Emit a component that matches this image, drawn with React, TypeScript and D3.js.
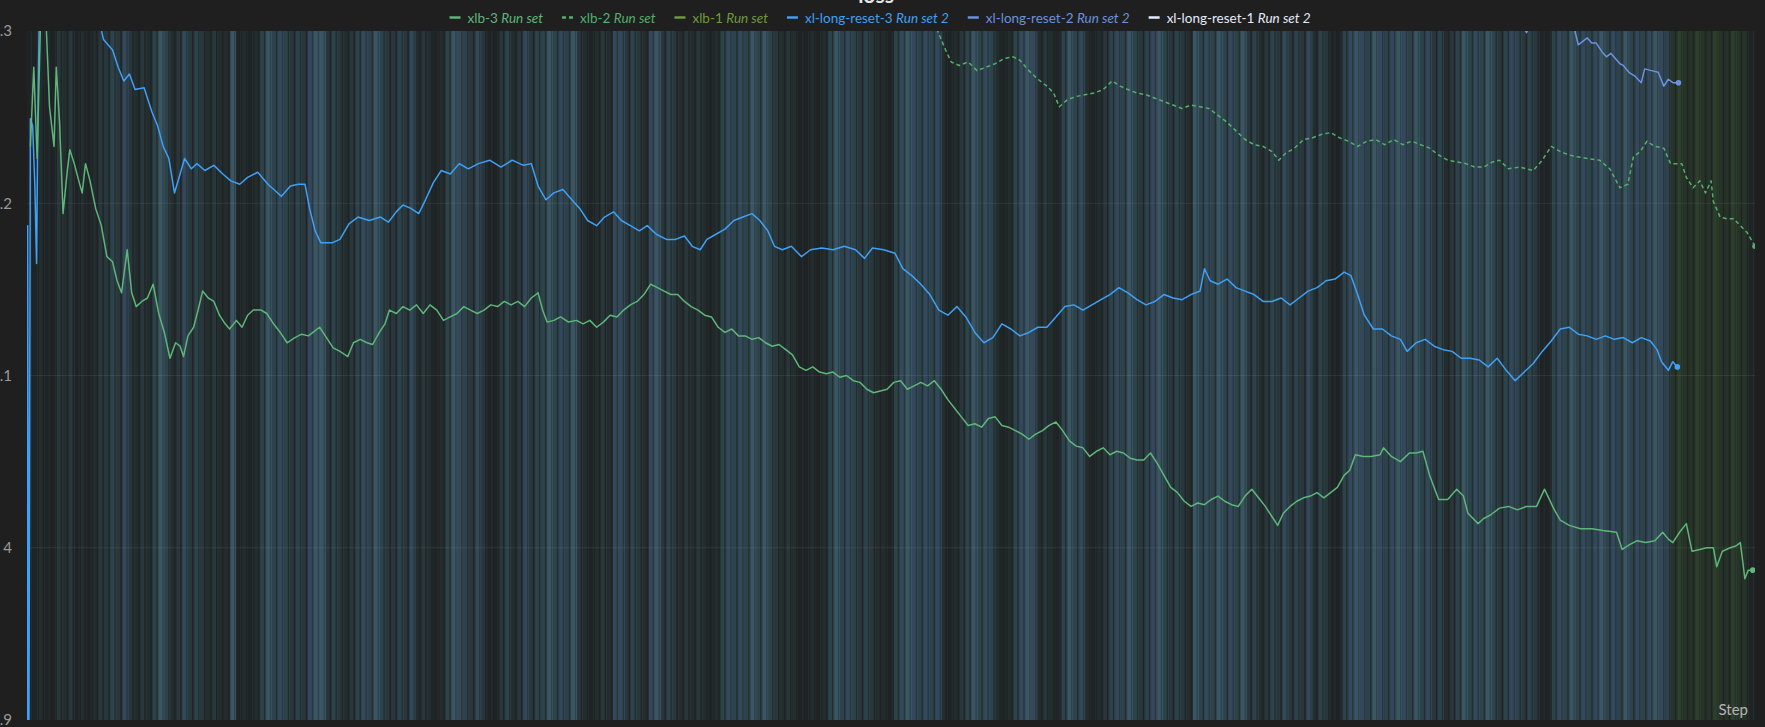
import React from "react"
import * as d3 from "d3"

type Pt = [number, number]

const W = 1765
const H = 727
const PLOT = { left: 27, right: 1755, top: 31, bottom: 720 }
const STEP_MAX = 1535

const yTicks = [3.9, 4.0, 4.1, 4.2, 4.3]

// smoothed loss curves, [step, loss]
const xlLongReset3: Pt[] = [
  [0, 3.85], [0.6, 4.187], [1.6, 3.85], [3, 4.249], [5, 4.245], [7, 4.21], [8.5, 4.165], [10, 4.27], [12, 4.35],
  [56, 4.33], [68, 4.295], [76, 4.289], [81, 4.279], [86, 4.271], [91, 4.275], [96, 4.266], [104, 4.267],
  [111, 4.253], [116, 4.245], [121, 4.233], [126, 4.226], [131, 4.206], [136, 4.217], [140, 4.226], [146, 4.22],
  [151, 4.223], [158, 4.219], [166, 4.222], [174, 4.217], [181, 4.213], [189, 4.211], [196, 4.215], [205, 4.218],
  [214, 4.211], [221, 4.207], [226, 4.204], [234, 4.21], [241, 4.211], [247, 4.211], [251, 4.197], [256, 4.184],
  [261, 4.177], [271, 4.177], [278, 4.179], [286, 4.188], [294, 4.192], [304, 4.19], [314, 4.192], [321, 4.189],
  [328, 4.195], [334, 4.199], [341, 4.197], [348, 4.194], [354, 4.202], [361, 4.212], [368, 4.219], [376, 4.217],
  [384, 4.223], [392, 4.22], [401, 4.223], [411, 4.225], [421, 4.221], [431, 4.225], [441, 4.222], [448, 4.223],
  [454, 4.21], [461, 4.202], [468, 4.206], [476, 4.208], [484, 4.202], [491, 4.197], [498, 4.19], [506, 4.187],
  [513, 4.192], [521, 4.195], [528, 4.19], [536, 4.187], [544, 4.184], [551, 4.187], [559, 4.182], [568, 4.179],
  [576, 4.179], [584, 4.181], [591, 4.175], [598, 4.173], [604, 4.179], [612, 4.182], [620, 4.185], [628, 4.19],
  [636, 4.192], [644, 4.194], [651, 4.19], [658, 4.184], [664, 4.175], [671, 4.173], [679, 4.175], [688, 4.169],
  [696, 4.173], [706, 4.174], [716, 4.173], [726, 4.175], [736, 4.173], [744, 4.168], [751, 4.174], [761, 4.173],
  [771, 4.171], [778, 4.162], [786, 4.158], [794, 4.153], [802, 4.147], [810, 4.138], [818, 4.135], [826, 4.14],
  [834, 4.134], [842, 4.125], [850, 4.119], [858, 4.122], [866, 4.13], [874, 4.127], [882, 4.123], [890, 4.125],
  [898, 4.128], [906, 4.128], [914, 4.134], [922, 4.14], [930, 4.141], [938, 4.138], [946, 4.141], [954, 4.144],
  [962, 4.147], [970, 4.151], [978, 4.148], [986, 4.144], [994, 4.141], [1002, 4.143], [1010, 4.147], [1018, 4.145],
  [1026, 4.144], [1034, 4.147], [1042, 4.149], [1046, 4.162], [1051, 4.155], [1058, 4.153], [1066, 4.156],
  [1074, 4.151], [1082, 4.149], [1090, 4.147], [1098, 4.143], [1106, 4.143], [1114, 4.145], [1122, 4.141],
  [1130, 4.145], [1138, 4.149], [1146, 4.151], [1154, 4.155], [1162, 4.156], [1170, 4.16], [1176, 4.158],
  [1182, 4.147], [1188, 4.135], [1196, 4.127], [1204, 4.127], [1212, 4.123], [1220, 4.121], [1226, 4.114],
  [1234, 4.119], [1242, 4.121], [1250, 4.117], [1258, 4.115], [1266, 4.114], [1274, 4.11], [1282, 4.11],
  [1290, 4.109], [1298, 4.105], [1306, 4.11], [1314, 4.103], [1322, 4.097], [1330, 4.102], [1338, 4.107],
  [1346, 4.114], [1354, 4.12], [1362, 4.127], [1370, 4.128], [1378, 4.124], [1386, 4.123], [1394, 4.121],
  [1402, 4.123], [1410, 4.121], [1418, 4.122], [1426, 4.119], [1434, 4.122], [1442, 4.12], [1448, 4.115],
  [1452, 4.108], [1458, 4.103], [1462, 4.108], [1466, 4.105],
]

const xlb3: Pt[] = [
  [3, 4.233], [6, 4.279], [9, 4.226], [12, 4.305], [16, 4.32], [20, 4.256], [24, 4.233], [26, 4.279], [29, 4.246],
  [32, 4.194], [36, 4.22], [38, 4.231], [42, 4.223], [46, 4.213], [49, 4.206], [52, 4.223], [56, 4.213], [61, 4.197],
  [66, 4.187], [71, 4.169], [76, 4.166], [80, 4.155], [84, 4.148], [89, 4.173], [93, 4.148], [97, 4.14], [102, 4.143],
  [107, 4.145], [112, 4.153], [117, 4.136], [122, 4.125], [127, 4.11], [132, 4.119], [136, 4.117], [139, 4.111],
  [143, 4.123], [148, 4.128], [152, 4.138], [156, 4.149], [161, 4.145], [166, 4.143], [171, 4.135], [176, 4.13],
  [180, 4.127], [186, 4.132], [191, 4.128], [196, 4.135], [201, 4.138], [208, 4.138], [213, 4.136], [219, 4.13],
  [225, 4.125], [231, 4.119], [238, 4.122], [244, 4.124], [250, 4.123], [256, 4.126], [260, 4.128], [266, 4.122],
  [272, 4.116], [278, 4.114], [285, 4.111], [290, 4.119], [296, 4.121], [302, 4.119], [307, 4.118], [313, 4.125],
  [318, 4.13], [322, 4.138], [328, 4.136], [334, 4.14], [340, 4.138], [346, 4.141], [352, 4.136], [358, 4.141],
  [364, 4.138], [370, 4.132], [376, 4.134], [382, 4.136], [388, 4.14], [394, 4.138], [400, 4.136], [406, 4.138],
  [412, 4.141], [418, 4.14], [424, 4.143], [430, 4.141], [436, 4.143], [442, 4.14], [448, 4.145], [454, 4.148],
  [458, 4.138], [462, 4.131], [468, 4.132], [474, 4.134], [481, 4.131], [488, 4.132], [494, 4.13], [500, 4.132],
  [506, 4.128], [512, 4.131], [518, 4.135], [524, 4.134], [530, 4.138], [536, 4.141], [542, 4.143], [548, 4.147],
  [554, 4.153], [560, 4.151], [566, 4.149], [572, 4.147], [578, 4.147], [584, 4.143], [590, 4.14], [596, 4.138],
  [602, 4.135], [608, 4.134], [614, 4.128], [620, 4.125], [626, 4.127], [632, 4.123], [638, 4.123], [644, 4.121],
  [650, 4.122], [656, 4.119], [662, 4.117], [668, 4.118], [674, 4.115], [680, 4.112], [686, 4.105], [692, 4.103],
  [698, 4.105], [704, 4.102], [710, 4.101], [716, 4.102], [722, 4.099], [728, 4.1], [734, 4.097], [740, 4.096],
  [746, 4.092], [752, 4.09], [758, 4.091], [764, 4.092], [770, 4.096], [776, 4.097], [782, 4.092], [788, 4.094],
  [794, 4.096], [800, 4.094], [806, 4.097], [812, 4.092], [818, 4.086], [824, 4.081], [830, 4.076], [836, 4.071],
  [842, 4.072], [848, 4.07], [854, 4.075], [860, 4.076], [866, 4.071], [872, 4.07], [878, 4.068], [884, 4.066],
  [890, 4.063], [896, 4.066], [902, 4.068], [908, 4.071], [914, 4.073], [920, 4.068], [926, 4.062], [932, 4.059],
  [938, 4.058], [944, 4.053], [950, 4.056], [956, 4.058], [962, 4.054], [968, 4.056], [974, 4.055], [980, 4.052],
  [986, 4.051], [992, 4.051], [998, 4.055], [1004, 4.049], [1010, 4.042], [1016, 4.035], [1022, 4.032],
  [1028, 4.027], [1034, 4.024], [1040, 4.026], [1046, 4.025], [1052, 4.028], [1058, 4.03], [1064, 4.027],
  [1070, 4.025], [1076, 4.024], [1082, 4.03], [1088, 4.034], [1094, 4.029], [1100, 4.024], [1106, 4.018],
  [1111, 4.013], [1116, 4.02], [1122, 4.024], [1128, 4.027], [1134, 4.029], [1140, 4.03], [1146, 4.032],
  [1152, 4.029], [1158, 4.032], [1164, 4.035], [1170, 4.042], [1175, 4.045], [1180, 4.054], [1187, 4.053],
  [1194, 4.053], [1202, 4.054], [1205, 4.058], [1212, 4.053], [1220, 4.05], [1228, 4.055], [1234, 4.055],
  [1240, 4.056], [1246, 4.042], [1254, 4.028], [1262, 4.028], [1270, 4.034], [1276, 4.03], [1280, 4.02],
  [1289, 4.014], [1294, 4.017], [1300, 4.019], [1308, 4.023], [1316, 4.024], [1324, 4.022], [1332, 4.024],
  [1341, 4.024], [1348, 4.034], [1356, 4.023], [1362, 4.016], [1370, 4.013], [1380, 4.011], [1390, 4.011],
  [1400, 4.01], [1412, 4.009], [1417, 3.999], [1424, 4.002], [1430, 4.004], [1438, 4.003], [1446, 4.004],
  [1453, 4.009], [1458, 4.005], [1462, 4.003], [1468, 4.009], [1474, 4.014], [1479, 3.998], [1486, 3.999],
  [1492, 4.0], [1498, 4.0], [1501, 3.989], [1506, 3.998], [1513, 4.0], [1518, 4.001], [1522, 4.003],
  [1526, 3.982], [1529, 3.987], [1533, 3.987],
]

const xlb2: Pt[] = [
  [801, 4.308], [809, 4.3], [816, 4.289], [821, 4.282], [828, 4.28], [836, 4.282], [844, 4.277], [852, 4.279],
  [860, 4.281], [868, 4.284], [876, 4.285], [882, 4.283], [890, 4.277], [898, 4.272], [906, 4.268], [912, 4.264],
  [917, 4.256], [924, 4.26], [932, 4.262], [940, 4.263], [948, 4.264], [956, 4.266], [964, 4.271], [971, 4.268],
  [978, 4.266], [986, 4.264], [994, 4.263], [1002, 4.261], [1010, 4.259], [1018, 4.257], [1026, 4.255],
  [1034, 4.257], [1042, 4.256], [1050, 4.255], [1058, 4.251], [1066, 4.247], [1074, 4.242], [1082, 4.237],
  [1090, 4.234], [1098, 4.233], [1106, 4.23], [1112, 4.225], [1118, 4.229], [1126, 4.232], [1134, 4.237],
  [1142, 4.238], [1150, 4.24], [1158, 4.241], [1166, 4.238], [1174, 4.236], [1182, 4.233], [1190, 4.236],
  [1198, 4.237], [1206, 4.234], [1214, 4.237], [1222, 4.234], [1230, 4.236], [1238, 4.234], [1246, 4.232],
  [1254, 4.228], [1262, 4.225], [1270, 4.224], [1278, 4.223], [1286, 4.221], [1294, 4.221], [1302, 4.224],
  [1308, 4.225], [1316, 4.22], [1326, 4.221], [1338, 4.219], [1346, 4.225], [1354, 4.233], [1362, 4.23],
  [1370, 4.228], [1377, 4.227], [1386, 4.226], [1397, 4.225], [1406, 4.22], [1415, 4.209], [1422, 4.211],
  [1427, 4.227], [1433, 4.23], [1439, 4.236], [1446, 4.233], [1454, 4.232], [1460, 4.223], [1470, 4.223],
  [1474, 4.215], [1480, 4.209], [1486, 4.213], [1491, 4.206], [1496, 4.213], [1498, 4.201], [1504, 4.192],
  [1510, 4.191], [1516, 4.191], [1522, 4.187], [1528, 4.183], [1535, 4.175],
]

const xlLongReset2: Pt[] = [
  [1276, 4.312], [1296, 4.308], [1304, 4.302], [1312, 4.309], [1326, 4.306], [1332, 4.299], [1338, 4.307],
  [1351, 4.31], [1366, 4.306], [1375, 4.3], [1378, 4.292], [1382, 4.294], [1386, 4.296], [1390, 4.293],
  [1394, 4.293], [1399, 4.288], [1403, 4.285], [1407, 4.287], [1411, 4.284], [1415, 4.281], [1418, 4.28],
  [1423, 4.276], [1428, 4.274], [1434, 4.27], [1437, 4.278], [1443, 4.277], [1449, 4.276], [1454, 4.268],
  [1458, 4.272], [1462, 4.27], [1467, 4.27],
]

// raw (unsmoothed) spread behind the curves, one tone per step bucket
const rawBandTones =
  "00100" + "2120" + "1012" + "23242" + "121" + "3531" + "24232" + "1211" + "5" + "0101" + "35343" + "2324" +
  "55" + "23212" + "343532" + "232412" + "101" + "3543" + "242" + "00" + "2312423" + "353435" + "21012" +
  "1" + "44" + "2321" + "45" + "23212" + "12101" + "343435" + "3532" + "1210" + "0101" + "35343" + "2321" +
  "10" + "3454" + "3434" + "1012" + "35343" + "101" + "3454" + "1210" + "3534" + "1012" + "3435323453" +
  "2321" + "5" + "34353435" + "2312" + "3242324132" + "00" + "345435434543534" + "2312" + "3534353" +
  "2343232" + "00" + "34353434534353" + "434543" + "ghgghgghgghgg" + "0"

const tonePalette: Record<string, string> = {
  "0": "#1f2325",
  "1": "#242d2d",
  "2": "#29373c",
  "3": "#2d434b",
  "4": "#34485c",
  "5": "#3b5563",
  g: "#263327",
  h: "#2d3e2d",
}
// the thinner, darker strand drawn inside each bucket
const toneShadow: Record<string, string> = {
  "0": "1", "1": "0", "2": "0", "3": "1", "4": "2", "5": "3", g: "0", h: "g",
}

const legendNames = ["xlb-3", "xlb-2", "xlb-1", "xl-long-reset-3", "xl-long-reset-2", "xl-long-reset-1"]
const legendGroups = ["Run set", "Run set", "Run set", "Run set 2", "Run set 2", "Run set 2"]
const legendColors = ["#5fb57a", "#55ad6e", "#6f9a3c", "#3fa0f5", "#6b92de", "#e4ecfc"]
const legendDashed = [false, true, false, false, false, false]

const FONT = "Lato, 'Noto Sans', sans-serif"
const LEGEND_SIZE = 13.5

function measure(text: string, italic: boolean) {
  const ctx = document.createElement("canvas").getContext("2d")
  if (!ctx) return text.length * 7
  ctx.font = `${italic ? "italic " : ""}${LEGEND_SIZE}px Lato`
  return ctx.measureText(text).width
}

export default function App() {
  const x = d3.scaleLinear().domain([0, STEP_MAX]).range([PLOT.left, PLOT.right])
  const y = d3.scaleLinear().domain([3.9, 4.3]).range([PLOT.bottom, PLOT.top])
  const line = d3.line<Pt>().x((d) => x(d[0])).y((d) => y(d[1]))

  const bandStep = STEP_MAX / rawBandTones.length

  const series = [
    { data: xlLongReset2, color: legendColors[4], dashed: false },
    { data: xlb2, color: legendColors[1], dashed: true },
    { data: xlLongReset3, color: legendColors[3], dashed: false },
    { data: xlb3, color: legendColors[0], dashed: false },
  ]

  // legend layout, centred over the plot title
  const items = legendNames.map((name, i) => {
    const nameW = measure(name + " ", false)
    const groupW = measure(legendGroups[i], true)
    return { name, group: legendGroups[i], nameW, w: 18 + nameW + groupW }
  })
  const gap = 19
  const total = d3.sum(items, (d) => d.w) + gap * (items.length - 1)
  let cursor = 880 - total / 2
  const placed = items.map((it) => {
    const x0 = cursor
    cursor += it.w + gap
    return { ...it, x0 }
  })

  const plotH = PLOT.bottom - PLOT.top

  return (
    <svg width={W} height={H} style={{ position: "absolute", left: 0, top: 0, display: "block" }} fontFamily={FONT}>
      <defs>
        <clipPath id="plot-clip">
          <rect x={PLOT.left} y={PLOT.top} width={PLOT.right - PLOT.left} height={plotH} />
        </clipPath>
      </defs>
      <rect width={W} height={H} fill="#1f1f1f" />

      {/* raw spread */}
      <g>
        {rawBandTones.split("").map((t, i) => {
          const x0 = x(i * bandStep)
          const x1 = x((i + 1) * bandStep)
          const w = x1 - x0
          return (
            <g key={i}>
              <rect x={x0} y={PLOT.top} width={w + 0.4} height={plotH} fill={tonePalette[t]} />
              <rect x={x0 + w * 0.62} y={PLOT.top} width={w * 0.22} height={plotH} fill={tonePalette[toneShadow[t]]} />
            </g>
          )
        })}
      </g>

      {/* grid */}
      <g>
        {yTicks.slice(1, -1).map((t) => (
          <line key={t} x1={PLOT.left} x2={PLOT.right} y1={y(t)} y2={y(t)} stroke="#ffffff" strokeOpacity={0.07} />
        ))}
      </g>

      {/* y tick labels, clipped by the panel edge */}
      <g>
        {yTicks.map((t) => (
          <text key={t} x={12} y={y(t)} dy="0.35em" textAnchor="end" fontSize={15} fill="#9a9a9a">
            {String(+t.toFixed(1))}
          </text>
        ))}
      </g>

      <g clipPath="url(#plot-clip)">
        {series.map((s, i) => (
          <path
            key={i}
            d={line(s.data) ?? ""}
            fill="none"
            stroke={s.color}
            strokeWidth={1.5}
            strokeDasharray={s.dashed ? "4 3" : undefined}
            strokeLinejoin="round"
          />
        ))}
        {series.map((s, i) => {
          const last = s.data[s.data.length - 1]
          return <circle key={i} cx={x(last[0])} cy={y(last[1])} r={2.8} fill={s.color} />
        })}
      </g>

      <text x={PLOT.right - 7} y={715} textAnchor="end" fontSize={15} fill="#b4b4b4">
        Step
      </text>

      {/* title, mostly cut off at the top */}
      <text x={876} y={3} textAnchor="middle" fontSize={21} fontWeight={700} fill="#e6e6e6">
        loss
      </text>

      {/* legend */}
      <g fontSize={LEGEND_SIZE}>
        {placed.map((it, i) => (
          <g key={it.name} transform={`translate(${it.x0},0)`}>
            <line
              x1={0}
              x2={11}
              y1={17.5}
              y2={17.5}
              stroke={legendColors[i]}
              strokeWidth={2.5}
              strokeDasharray={legendDashed[i] ? "4 3" : undefined}
            />
            <text x={18} y={22.5} fill={legendColors[i]}>
              {it.name}{" "}
              <tspan fontStyle="italic">{it.group}</tspan>
            </text>
          </g>
        ))}
      </g>
    </svg>
  )
}
